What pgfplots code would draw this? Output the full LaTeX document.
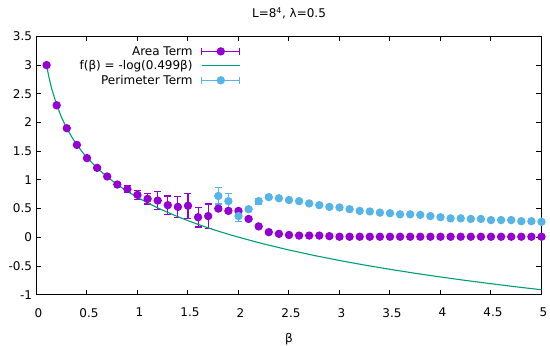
\documentclass[border=0pt]{standalone}
\usepackage{fontspec}
\setmainfont{DejaVu Sans}
\usepackage{pgfplots}
\pgfplotsset{compat=1.18}
\usepackage{pgfplotstable}
\definecolor{gpurple}{HTML}{9400D3}
\definecolor{ggreen}{HTML}{009E73}
\definecolor{gblue}{HTML}{56B4E9}

\pgfplotstableread{
b v e
0.1 3.00 0.01
0.2 2.30 0.01
0.3 1.90 0.01
0.4 1.61 0.01
0.5 1.38 0.01
0.6 1.21 0.02
0.7 1.06 0.02
0.8 0.92 0.03
0.9 0.84 0.06
1.0 0.74 0.08
1.1 0.67 0.09
1.2 0.64 0.16
1.3 0.56 0.16
1.4 0.53 0.18
1.5 0.55 0.22
1.6 0.35 0.17
1.7 0.37 0.21
1.8 0.50 0.03
1.9 0.46 0.03
2.0 0.46 0.03
2.1 0.32 0.02
2.2 0.19 0.02
2.3 0.09 0.01
2.4 0.06 0.01
2.5 0.04 0.01
2.6 0.03 0.01
2.7 0.03 0.01
2.8 0.03 0.01
2.9 0.02 0.01
3.0 0.01 0.01
3.1 0.01 0.01
3.2 0.01 0.01
3.3 0.01 0.01
3.4 0.01 0.01
3.5 0.01 0.01
3.6 0.01 0.01
3.7 0.01 0.01
3.8 0.01 0.01
3.9 0.01 0.01
4.0 0.01 0.01
4.1 0.01 0.01
4.2 0.01 0.01
4.3 0.01 0.01
4.4 0.01 0.01
4.5 0.01 0.01
4.6 0.01 0.01
4.7 0.01 0.01
4.8 0.01 0.01
4.9 0.01 0.01
5.0 0.01 0.01
}\areatab

\pgfplotstableread{
b v e
1.8 0.72 0.14
1.9 0.63 0.13
2.0 0.37 0.10
2.1 0.49 0.03
2.2 0.63 0.05
2.3 0.70 0.02
2.4 0.68 0.01
2.5 0.65 0.01
2.6 0.63 0.01
2.7 0.59 0.01
2.8 0.56 0.01
2.9 0.53 0.01
3.0 0.52 0.01
3.1 0.49 0.01
3.2 0.46 0.01
3.3 0.45 0.01
3.4 0.43 0.01
3.5 0.42 0.01
3.6 0.40 0.01
3.7 0.40 0.01
3.8 0.39 0.01
3.9 0.37 0.01
4.0 0.35 0.01
4.1 0.33 0.01
4.2 0.33 0.01
4.3 0.32 0.01
4.4 0.32 0.01
4.5 0.30 0.01
4.6 0.30 0.01
4.7 0.30 0.01
4.8 0.28 0.01
4.9 0.28 0.01
5.0 0.27 0.01
}\perimtab

\pgfplotstableread{
b v
0.10 2.998
0.12 2.815
0.15 2.592
0.20 2.304
0.25 2.081
0.30 1.899
0.35 1.745
0.40 1.611
0.45 1.494
0.50 1.388
0.60 1.206
0.70 1.052
0.80 0.918
0.90 0.800
1.00 0.695
1.10 0.600
1.20 0.513
1.30 0.433
1.40 0.359
1.50 0.290
1.60 0.225
1.70 0.164
1.80 0.107
1.90 0.053
2.00 0.002
2.25 -0.116
2.50 -0.221
2.75 -0.317
3.00 -0.404
3.25 -0.484
3.50 -0.558
3.75 -0.627
4.00 -0.691
4.25 -0.752
4.50 -0.809
4.75 -0.863
5.00 -0.914
}\functab

\pgfplotsset{
  errleg/.style={legend image code/.code={
    \path[draw=none, fill=none] (0pt,-3.6pt) rectangle (46pt,3.6pt);
    \draw[#1, line width=1.1pt] (8pt,0pt) -- (46pt,0pt);
    \draw[#1, line width=1.1pt] (8pt,-3.5pt) -- (8pt,3.5pt);
    \draw[#1, line width=1.1pt] (46pt,-3.5pt) -- (46pt,3.5pt);
    \fill[#1] (27pt,0pt) circle (3.6pt);
  }},
  lineleg/.style={legend image code/.code={
    \path[draw=none, fill=none] (0pt,-3.6pt) rectangle (46pt,3.6pt);
    \draw[#1, line width=1.1pt] (8pt,0pt) -- (46pt,0pt);
  }},
}

\begin{document}
\begin{tikzpicture}
\begin{axis}[
  at={(0,0)}, anchor=south west,
  scale only axis, width=505pt, height=258.3pt,
  xmin=0, xmax=5, ymin=-1, ymax=3.5,
  xtick={0,0.5,...,5}, ytick={-1,-0.5,...,3.5},
  tick align=inside, major tick length=5pt,
  axis line style={line width=1pt},
  tick style={line width=1pt, black},
  /pgf/number format/assume math mode=true,
  /pgf/number format/fixed,
  tick label style={font=\fontsize{12}{14}\selectfont},
  xticklabel style={yshift=-10pt, xshift=2pt},
  yticklabel style={xshift=-1pt},
  title={L=8\textsuperscript{4}, λ=0.5},
  title style={at={(0.5,1)}, anchor=base, yshift=13pt, font=\fontsize{12}{14}\selectfont},
  xlabel={β},
  xlabel style={at={(0.5,0)}, anchor=base, yshift=-48pt, font=\fontsize{12}{14}\selectfont},
  legend plot pos=right, legend cell align=right,
  legend style={at={(0.41,0.975)}, anchor=north east, draw=none, fill=none,
    font=\fontsize{12}{14}\selectfont, row sep=1.5pt, nodes={inner sep=1.2pt}},
  clip=false,
]
\addplot[gpurple, only marks, mark=*, mark size=3.6pt, line width=1.1pt, errleg=gpurple,
  error bars/.cd, y dir=both, y explicit,
  error bar style={line width=1.1pt, gpurple},
  error mark options={rotate=90, mark size=3.5pt, line width=1.1pt, gpurple}]
  table[x=b, y=v, y error=e] {\areatab};
\addlegendentry{Area Term}
\addplot[ggreen, line width=1.1pt, no marks, lineleg=ggreen] table[x=b, y=v] {\functab};
\addlegendentry{f(β) = -log(0.499β)}
\addplot[gblue, only marks, mark=*, mark size=3.6pt, line width=1.1pt, errleg=gblue,
  error bars/.cd, y dir=both, y explicit,
  error bar style={line width=1.1pt, gblue},
  error mark options={rotate=90, mark size=3.5pt, line width=1.1pt, gblue}]
  table[x=b, y=v, y error=e] {\perimtab};
\addlegendentry{Perimeter Term}
\end{axis}
\pgfresetboundingbox
\useasboundingbox (-36.5pt,-51.3pt) rectangle (513.5pt,294.7pt);
\end{tikzpicture}
\end{document}
